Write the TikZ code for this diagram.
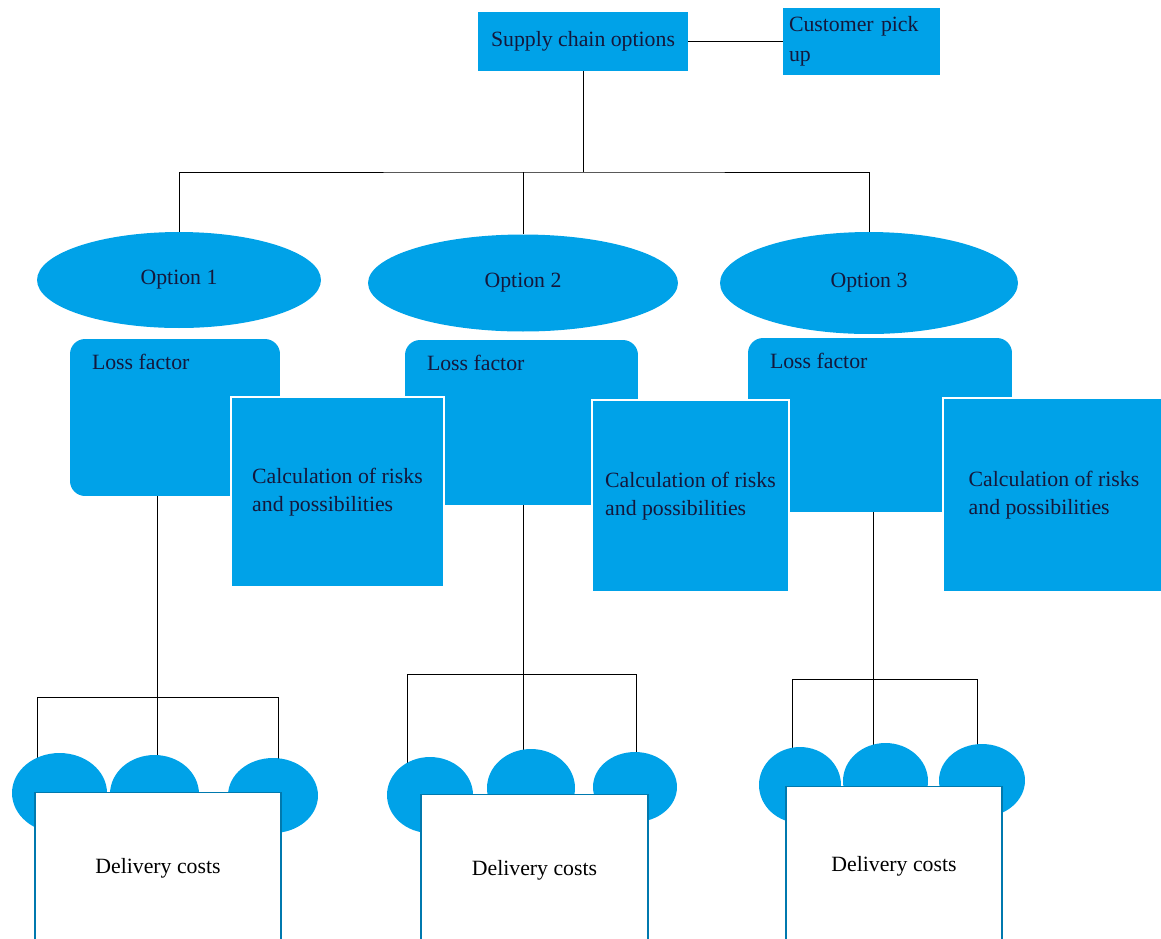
\documentclass[tikz,border=0pt]{standalone}
\usepackage{fontspec}
\setmainfont{Liberation Serif}
\usetikzlibrary{shapes.geometric,backgrounds}
\definecolor{paint}{RGB}{0,162,232}
\definecolor{ink}{RGB}{20,24,60}

\begin{document}
\begin{tikzpicture}[
		x=0.02cm, y=-0.02cm,
		every node/.style={font=\fontsize{12.4}{16}\selectfont},
		box/.style={rectangle, fill=paint, text=ink, inner sep=0pt},
		option/.style={ellipse, fill=paint, text=ink, inner sep=0pt},
		loss/.style={rectangle, rounded corners=0.3cm, fill=paint, inner sep=0pt,
			label={[anchor=north west, text=ink, inner sep=0pt, xshift=0.44cm, yshift=-0.3cm]north west:Loss factor}},
		calc/.style={rectangle, fill=paint, draw=white, line width=1.5pt, text=ink, align=left},
		bump/.style={ellipse, fill=paint, inner sep=0pt},
		cost/.style={rectangle, fill=white, draw=paint!75!black, line width=0.6pt}
	]
  \useasboundingbox (0, 0) rectangle (1161, 938);
  \node (sup) [box, minimum width=4.2cm, minimum height=1.18cm] at (583, 41.5) {Supply chain options};
  \node (pick) [box, minimum width=3.14cm, minimum height=1.34cm, align=left, text width=2.9cm, font=\fontsize{12.4}{17}\selectfont] at (861.5, 41.5) {Customer pick\\up};
  \node (o1) [option, minimum width=5.68cm, minimum height=1.92cm] at (179, 280) {Option 1};
  \node (o2) [option, minimum width=6.2cm, minimum height=1.94cm] at (523, 283) {Option 2};
  \node (o3) [option, minimum width=5.96cm, minimum height=2.04cm] at (869, 283) {Option 3};
  \node (lf1) [loss, minimum width=4.2cm, minimum height=3.14cm] at (175, 417.5) {};
  \node (lf2) [loss, minimum width=4.66cm, minimum height=3.3cm] at (521.5, 422.5) {};
  \node (lf3) [loss, minimum width=5.28cm, minimum height=3.48cm] at (880, 425) {};
  \node (calc1) [calc, minimum width=4.26cm, minimum height=3.8cm] at (337.5, 492) {Calculation of risks\\and possibilities};
  \node (calc2) [calc, minimum width=3.94cm, minimum height=3.84cm] at (690.5, 496) {Calculation of risks\\and possibilities};
  \node (calc3) [calc, minimum width=4.44cm, minimum height=3.88cm] at (1054, 495) {Calculation of risks\\and possibilities};
  \node (c11) [bump, minimum width=1.9cm, minimum height=1.6cm] at (59.5, 793) {};
  \node (c12) [bump, minimum width=1.78cm, minimum height=1.56cm] at (154.5, 794) {};
  \node (c13) [bump, minimum width=1.8cm, minimum height=1.5cm] at (273, 795.5) {};
  \node (c21) [bump, minimum width=1.72cm, minimum height=1.52cm] at (430, 795) {};
  \node (c22) [bump, minimum width=1.76cm, minimum height=1.56cm] at (531, 788) {};
  \node (c23) [bump, minimum width=1.68cm, minimum height=1.4cm] at (635, 787) {};
  \node (c31) [bump, minimum width=1.64cm, minimum height=1.52cm] at (800, 785) {};
  \node (c32) [bump, minimum width=1.7cm, minimum height=1.52cm] at (885.5, 781) {};
  \node (c33) [bump, minimum width=1.72cm, minimum height=1.46cm] at (982, 780.5) {};
  \node (d1) [cost, minimum width=4.92cm, minimum height=3.06cm] at (158, 868.5) {Delivery costs};
  \node (d2) [cost, minimum width=4.54cm, minimum height=3.04cm] at (534.5, 870) {Delivery costs};
  \node (d3) [cost, minimum width=4.32cm, minimum height=3.2cm] at (894, 866) {Delivery costs};
  \coordinate (top bus) at (583, 172);
  \coordinate (g1) at (157, 697);
  \coordinate (g1 l) at (37, 697);
  \coordinate (g1 r) at (278, 697);
  \coordinate (g2) at (523, 674);
  \coordinate (g2 l) at (407, 674);
  \coordinate (g2 r) at (636, 674);
  \coordinate (g3) at (873, 679);
  \coordinate (g3 l) at (792, 679);
  \coordinate (g3 r) at (977, 679);
  \begin{scope}[on background layer, line width=0.8pt]
  \draw (sup) -- (pick);
  \draw (sup) -- (top bus);
  \draw (o1) |- (top bus) -| (o3);
  \draw (o2) -- (o2 |- top bus);
  \draw (g1 |- lf1.south) -- (g1 |- c12);
  \draw (g1 l |- c11) -- (g1 l) -- (g1 r) -- (g1 r |- c13);
  \draw (g2 |- lf2.south) -- (g2 |- c22);
  \draw (g2 l |- c21) -- (g2 l) -- (g2 r) -- (g2 r |- c23);
  \draw (g3 |- lf3.south) -- (g3 |- c32);
  \draw (g3 l |- c31) -- (g3 l) -- (g3 r) -- (g3 r |- c33);
  \end{scope}
\end{tikzpicture}
\end{document}
